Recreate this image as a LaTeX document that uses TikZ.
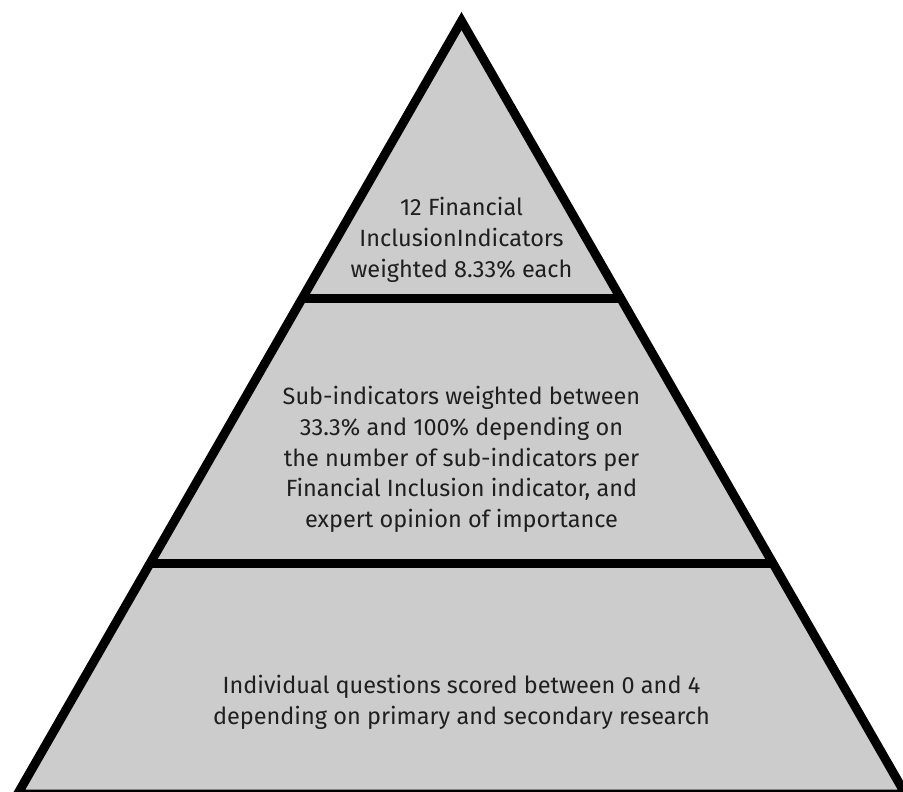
\documentclass[tikz,border=0pt]{standalone}
\usepackage{fontspec}
\setmainfont{Fira Sans}
\begin{document}
\begin{tikzpicture}[x=1pt,y=-1pt,
  tier/.style={draw=black,line width=9pt,line join=miter,fill=pyrgray},
  divider/.style={draw=black,line width=9pt},
  label/.style={align=center,font=\fontsize{23.5}{30.7}\selectfont,text=black!88}]
\definecolor{pyrgray}{HTML}{CCCCCC}
\useasboundingbox (0,0) rectangle (903,792);
\begin{scope}
\clip (0,0) rectangle (903,792);
\coordinate (apex) at (461.5,21);
\coordinate (bl) at (17.6,794);
\coordinate (br) at (905.4,794);
\path[tier] (apex) -- (bl) -- (br) -- cycle;
\coordinate (d1l) at (300,298);
\coordinate (d1r) at (623,298);
\coordinate (d2l) at (150,563);
\coordinate (d2r) at (773,563);
\draw[divider] (d1l) -- (d1r);
\draw[divider] (d2l) -- (d2r);
\end{scope}
\node[label] (top) at (461.5,240) {12 Financial\\InclusionIndicators\\weighted 8.33\% each};
\node[label] (mid) at (461.5,459.5) {Sub-indicators weighted between\\33.3\% and 100\% depending on\\the number of sub-indicators per\\Financial Inclusion indicator, and\\expert opinion of importance};
\node[label] (bot) at (461.5,702) {Individual questions scored between 0 and 4\\depending on primary and secondary research};
\end{tikzpicture}
\end{document}
